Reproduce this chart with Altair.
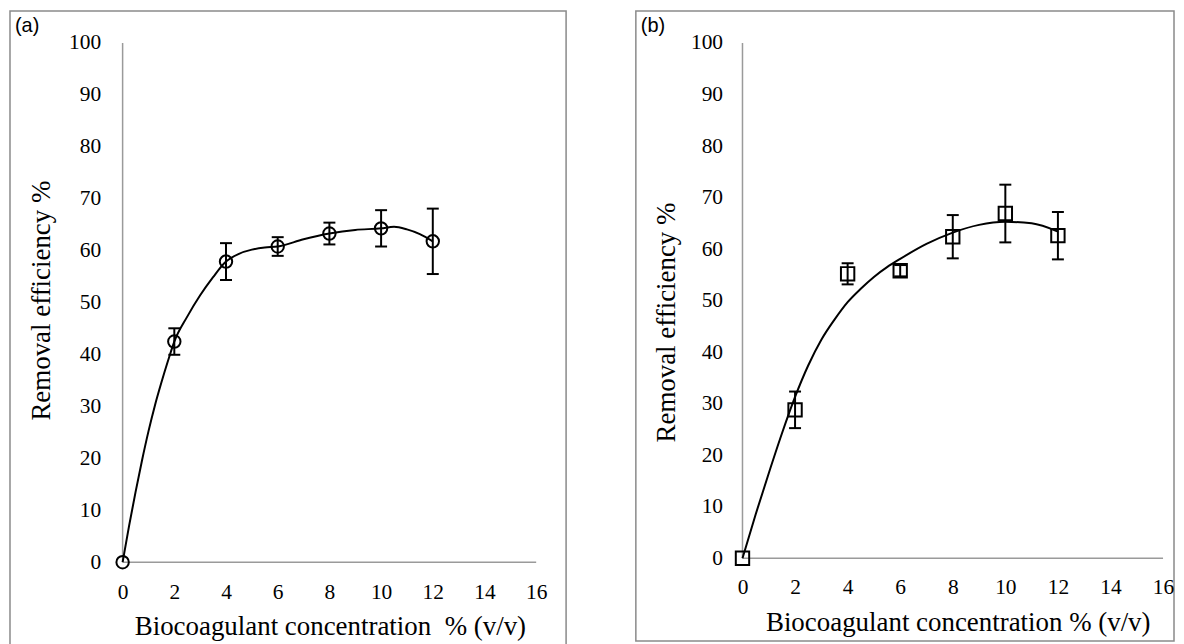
import altair as alt
import pandas as pd

# ---- data ----
conc = [0, 2, 4, 6, 8, 10, 12]
eff_a = [0, 42.5, 57.9, 60.8, 63.3, 64.3, 61.8]
err_a = [0, 2.55, 3.55, 1.8, 2.1, 3.5, 6.3]
eff_b = [0, 28.8, 55.2, 55.8, 62.4, 66.9, 62.6]
err_b = [0, 3.55, 2.05, 1.1, 4.2, 5.6, 4.6]

curve_a_x = [0, 0.25, 0.5, 0.75, 1, 1.25, 1.5, 1.75, 2, 2.5, 3, 3.5, 4, 4.5, 5, 5.5, 6, 7, 8, 9, 10, 10.5, 11, 11.5, 12]
curve_a_y = [0, 7.0, 13.5, 19.6, 25.2, 30.2, 34.6, 38.7, 42.5, 47.3, 51.4, 54.9, 57.9, 59.4, 60.2, 60.6, 60.8, 62.2, 63.3, 64.0, 64.3, 64.6, 64.1, 63.2, 61.8]
curve_b_x = [0, 0.5, 1, 1.5, 2, 2.5, 3, 3.5, 4, 4.5, 5, 5.5, 6, 7, 8, 9, 10, 11, 12]
curve_b_y = [0, 8.5, 16.5, 24.2, 31.3, 37.4, 42.4, 46.3, 49.7, 52.3, 54.6, 56.5, 58.1, 61.0, 63.2, 64.7, 65.3, 65.0, 63.4]

x_ticks = [0, 2, 4, 6, 8, 10, 12, 14, 16]
y_ticks = [0, 10, 20, 30, 40, 50, 60, 70, 80, 90, 100]
x_extent = [0, 16]
y_extent = [0, 100]
x_title_a = "Biocoagulant concentration\u00a0 % (v/v)"
x_title_b = "Biocoagulant concentration % (v/v)"
y_title = "Removal efficiency %"

SERIF = "Liberation Serif"
SANS = "Liberation Sans"
INK = "#000000"
AXIS_GRAY = "#9a9a9a"
BOX_GRAY = "#8a8a8a"


def panel(label, eff, err, cx, cy, shape, msize, xdom, ydom, width, height,
          x_off, y_off, x_lpad, y_lpad, xtitle, xtitle_x, xtitle_y, ytitle_x, ytitle_y):
    xs = alt.Scale(domain=xdom, nice=False, zero=False)
    ys = alt.Scale(domain=ydom, nice=False, zero=False)
    xaxis = alt.Axis(values=x_ticks, orient="bottom", offset=x_off, domain=False, ticks=False,
                     tickSize=0, grid=False, labelFont=SERIF, labelFontSize=21.5, labelColor=INK,
                     labelPadding=x_lpad, labelBaseline="alphabetic", format="d",
                     title=xtitle, titleFont=SERIF, titleFontSize=27, titleFontWeight="normal",
                     titleColor=INK, titleX=xtitle_x, titleY=xtitle_y, titleAlign="center",
                     titleBaseline="alphabetic", titleAngle=0)
    yaxis = alt.Axis(values=y_ticks, orient="left", offset=y_off, domain=False, ticks=False,
                     tickSize=0, grid=False, labelFont=SERIF, labelFontSize=21.5, labelColor=INK,
                     labelPadding=y_lpad, labelBaseline="middle", format="d",
                     title=y_title, titleFont=SERIF, titleFontSize=27, titleFontWeight="normal",
                     titleColor=INK, titleX=ytitle_x, titleY=ytitle_y, titleAlign="center",
                     titleBaseline="alphabetic", titleAngle=270)

    def X(f):
        return alt.X(f, type="quantitative", scale=xs, axis=xaxis)

    def Y(f):
        return alt.Y(f, type="quantitative", scale=ys, axis=yaxis)

    pts = pd.DataFrame({"c": conc, "e": eff, "err": err})
    pts["lo"] = pts["e"] - pts["err"]
    pts["hi"] = pts["e"] + pts["err"]
    bars = pts[pts["err"] > 0]
    crv = pd.DataFrame({"c": cx, "e": cy})
    xline = pd.DataFrame({"c": [x_extent[0]], "c2": [x_extent[1]], "e": [0]})
    yline = pd.DataFrame({"c": [0], "e": [y_extent[0]], "e2": [y_extent[1]]})

    ax_x = alt.Chart(xline).mark_rule(color=AXIS_GRAY, strokeWidth=1.5).encode(
        x=X("c"), x2="c2", y=Y("e"))
    ax_y = alt.Chart(yline).mark_rule(color=AXIS_GRAY, strokeWidth=1.5).encode(
        x=X("c"), y=Y("e"), y2="e2")
    line = alt.Chart(crv).mark_line(color="black", strokeWidth=2, interpolate="monotone").encode(
        x=X("c"), y=Y("e"))
    rule = alt.Chart(bars).mark_rule(color="black", strokeWidth=2).encode(
        x=X("c"), y=Y("lo"), y2="hi")
    cap_lo = alt.Chart(bars).mark_tick(color="black", orient="horizontal", size=12, thickness=2,
                                       opacity=1).encode(x=X("c"), y=Y("lo"))
    cap_hi = alt.Chart(bars).mark_tick(color="black", orient="horizontal", size=12, thickness=2,
                                       opacity=1).encode(x=X("c"), y=Y("hi"))
    marks = alt.Chart(pts).mark_point(shape=shape, filled=False, size=msize, strokeWidth=2,
                                      color="black", opacity=1).encode(x=X("c"), y=Y("e"))
    tag = alt.Chart(pd.DataFrame({"t": [label]})).mark_text(
        font=SANS, fontSize=20, color=INK, align="left", baseline="alphabetic").encode(
        text="t:N", x=alt.value(5), y=alt.value(21))

    return alt.layer(ax_x, ax_y, line, rule, cap_lo, cap_hi, marks, tag).properties(
        width=width, height=height,
        view=alt.ViewBackground(stroke=BOX_GRAY, strokeWidth=1.5, fill="white"))


pa = panel("(a)", eff_a, err_a, curve_a_x, curve_a_y, "circle", 155,
           [-4.357, 17.157], [-16.699, 106.142], 558, 640,
           -87, -113, 36, 22, x_title_a, 321, 73, -73, 290)
pb = panel("(b)", eff_b, err_b, curve_b_x, curve_b_y, "square", 180,
           [-4.057, 16.417], [-16.054, 106.190], 540, 632,
           -83, -107, 35, 20, x_title_b, 323, 73, -68, 312)

chart = alt.hconcat(pa, pb, spacing=68).properties(
    padding={"left": 1, "top": 1, "right": 1, "bottom": 1},
    background="white")

chart.save("out.html", embed_options={"renderer": "svg", "actions": False})
